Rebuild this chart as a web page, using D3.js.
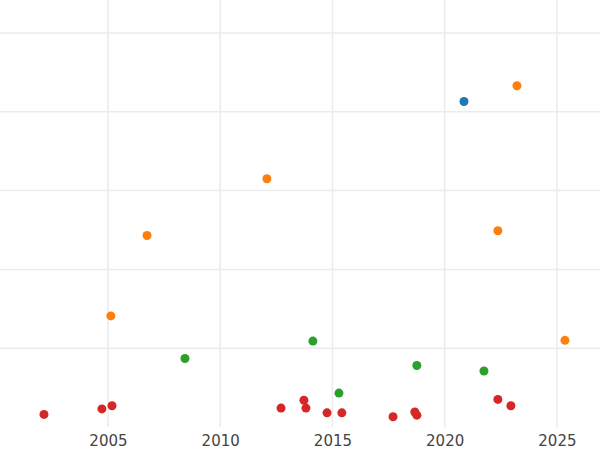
<!DOCTYPE html><html><head><meta charset="utf-8"><script src="https://cdn.jsdelivr.net/npm/d3@7"></script>
<style>body{margin:0;background:#fff}</style></head><body><svg width="600" height="450"></svg><script>
const redYears=[2002.15,2004.73,2005.18,2012.71,2013.73,2013.82,2014.76,2015.42,2017.70,2018.67,2018.76,2022.37,2022.95];
const redVals=[0.16,0.23,0.27,0.24,0.34,0.24,0.18,0.18,0.13,0.19,0.15,0.35,0.27];
const greenYears=[2008.43,2014.13,2015.29,2018.76,2021.75];
const greenVals=[0.87,1.09,0.43,0.78,0.71];
const orangeYears=[2005.13,2006.74,2012.08,2022.37,2023.22,2025.36];
const orangeVals=[1.41,2.43,3.15,2.49,4.33,1.10];
const blueYears=[2020.86];
const blueVals=[4.13];
const xTicks=[2005,2010,2015,2020,2025];
const yGrid=[1,2,3,4,5];
const series=[[redYears,redVals,"#d62728"],[greenYears,greenVals,"#2ca02c"],[orangeYears,orangeVals,"#ff7f0e"],[blueYears,blueVals,"#1f77b4"]];
const svg=d3.select("svg");
const x=d3.scaleLinear().domain([2000.19,2026.92]).range([0,600]);
const y=d3.scaleLinear().domain([0,5]).range([427,33]);
svg.append("g").selectAll("line").data(xTicks).join("line").attr("x1",d=>x(d)).attr("x2",d=>x(d)).attr("y1",0).attr("y2",427).attr("stroke","#ebebeb").attr("stroke-width",1.5);
svg.append("g").selectAll("line").data(yGrid).join("line").attr("x1",0).attr("x2",600).attr("y1",d=>y(d)).attr("y2",d=>y(d)).attr("stroke","#ebebeb").attr("stroke-width",1.5);
const ax=svg.append("g").attr("transform","translate(0,427)").call(d3.axisBottom(x).tickValues(xTicks).tickFormat(d3.format("d")).tickSize(0).tickPadding(8));
ax.select(".domain").remove();
ax.selectAll("text").attr("fill","#444").style("font-size","15px").style("font-family","DejaVu Sans");
series.forEach(([xs,vs,c])=>{
 svg.append("g").selectAll("circle").data(xs.map((v,i)=>[v,vs[i]])).join("circle").attr("cx",d=>x(d[0])).attr("cy",d=>y(d[1])).attr("r",4.5).attr("fill",c);
});
</script></body></html>
